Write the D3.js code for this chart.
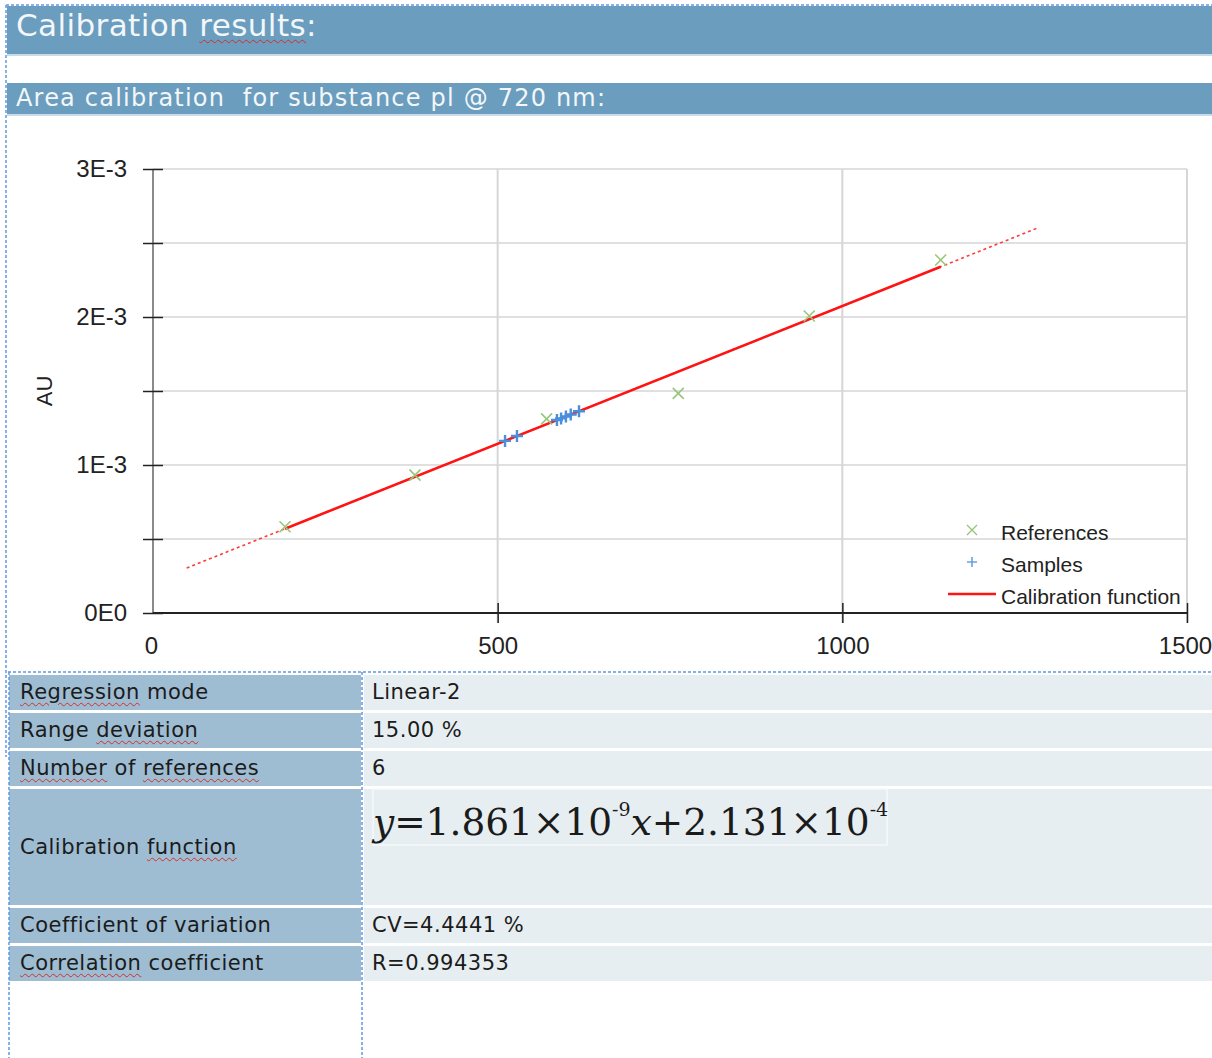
<!DOCTYPE html>
<html>
<head>
<meta charset="utf-8">
<script src="https://cdn.jsdelivr.net/npm/d3@7"></script>
<style>
  html, body { margin: 0; padding: 0; background: #fff; }
  body { width: 1212px; height: 1058px; position: relative; overflow: hidden; font-family: "DejaVu Sans", sans-serif; }
  .bar { position: absolute; background: #6b9dbe; color: #f3f7fa; border-bottom: 2px solid #c9dbe7; box-sizing: border-box; white-space: nowrap; }
  .cell { position: absolute; box-sizing: border-box; white-space: nowrap; color: #1b1b1b; font-size: 21px; letter-spacing: 0.5px; }
  .lab { background: #9ebdd3; }
  .val { background: #e7eef1; }
  .sp { text-decoration: underline wavy #d0302a; text-decoration-thickness: 1px; text-underline-offset: 3px; }
  svg { position: absolute; left: 0; top: 0; }
</style>
</head>
<body>
<div id="page"></div>
<script>
// ---- calibration data (area axis shown in thousands of counts) ----
const refArea  = [191.5, 380.0, 571.0, 762.0, 952.0, 1142.7];
const refAU    = [0.583e-3, 0.932e-3, 1.312e-3, 1.484e-3, 2.007e-3, 2.385e-3];
const sampleArea = [510.7, 528.0, 586.0, 592.0, 599.0, 606.0, 618.0];
const sampleAU   = [1.163e-3, 1.196e-3, 1.304e-3, 1.315e-3, 1.328e-3, 1.341e-3, 1.363e-3];

const calibSlope = 1.861e-9;      // AU per count
const calibIntercept = 2.131e-4;  // AU
const areaUnit = 1e3;             // counts per axis unit
const rangeDeviation = 0.15;      // extrapolation shown beyond the reference range

const xTicks = [0, 500, 1000, 1500];
const yTicks = [0, 0.5e-3, 1e-3, 1.5e-3, 2e-3, 2.5e-3, 3e-3];
const yTickLabels = ["0E0", "", "1E-3", "", "2E-3", "", "3E-3"];

const legendItems = ["References", "Samples", "Calibration function"];

const tableRows = [
  { label: [["Regression", true], [" mode", false]], value: "Linear-2" },
  { label: [["Range ", false], ["deviation", true]], value: "15.00 %" },
  { label: [["Number", true], [" of ", false], ["references", true]], value: "6" },
  { label: [["Calibration ", false], ["function", true]], value: null },
  { label: [["Coefficient of variation", false]], value: "CV=4.4441 %" },
  { label: [["Correlation", true], [" coefficient", false]], value: "R=0.994353" }
];
const rowTops = [675, 713, 751, 789, 908, 946];
const rowHeights = [35, 35, 35, 116, 35, 35];

// ---- page header bars ----
const page = d3.select("#page");
const bar1 = page.append("div").attr("class", "bar")
  .style("left", "7px").style("top", "6px").style("width", "1205px").style("height", "50px")
  .style("font-size", "31px").style("letter-spacing", "0.4px")
  .style("padding-left", "9px").style("line-height", "38px");
bar1.append("span").text("Calibration ");
bar1.append("span").attr("class", "sp").text("results");
bar1.append("span").text(":");

page.append("div").attr("class", "bar")
  .style("left", "7px").style("top", "83px").style("width", "1205px").style("height", "33px")
  .style("font-size", "24px").style("letter-spacing", "1.2px")
  .style("padding-left", "9px").style("line-height", "31px")
  .text("Area calibration\u00a0 for substance pl @ 720 nm:");

// ---- results table ----
tableRows.forEach((r, i) => {
  const lab = page.append("div").attr("class", "cell lab")
    .style("left", "9px").style("top", rowTops[i] + "px")
    .style("width", "352px").style("height", rowHeights[i] + "px")
    .style("padding-left", "11px").style("line-height", rowHeights[i] + "px");
  r.label.forEach(([t, misspelled]) => lab.append("span").attr("class", misspelled ? "sp" : null).text(t));
  const val = page.append("div").attr("class", "cell val")
    .style("left", "364px").style("top", rowTops[i] + "px")
    .style("width", "848px").style("height", rowHeights[i] + "px")
    .style("padding-left", "8px").style("line-height", rowHeights[i] + "px");
  if (r.value) val.text(r.value);
});

// ---- chart ----
const svg = d3.select("body").append("svg").attr("width", 1212).attr("height", 1058);
const x = d3.scaleLinear().domain([0, 1500]).range([153, 1187]);
const y = d3.scaleLinear().domain([0, 3e-3]).range([613, 169]);

const grid = svg.append("g");
grid.selectAll("line.h").data(yTicks.slice(1)).join("line")
  .attr("x1", x(0)).attr("x2", x(1500)).attr("y1", d => y(d)).attr("y2", d => y(d))
  .attr("stroke", "#d6d6d6").attr("stroke-width", 1.5);
grid.selectAll("line.v").data(xTicks.slice(1)).join("line")
  .attr("x1", d => x(d)).attr("x2", d => x(d)).attr("y1", y(3e-3)).attr("y2", y(0) + 10)
  .attr("stroke", "#d6d6d6").attr("stroke-width", 2);

const chartFont = "'Liberation Sans', Arial, sans-serif";

const yAxis = svg.append("g").attr("transform", `translate(${x(0)},0)`)
  .call(d3.axisLeft(y).tickValues(yTicks).tickFormat((d, i) => yTickLabels[i]).tickSize(10).tickPadding(16));
yAxis.select(".domain").attr("stroke", "#8a8a8a").attr("stroke-width", 2).attr("d", `M0,${y(0)}V${y(3e-3)}`);
yAxis.selectAll(".tick line").attr("x1", -10).attr("x2", 10).attr("stroke", "#222").attr("stroke-width", 1.5);
yAxis.selectAll(".tick text").attr("font-family", chartFont).attr("font-size", 24).attr("fill", "#222");

const xAxis = svg.append("g").attr("transform", `translate(0,${y(0)})`)
  .call(d3.axisBottom(x).tickValues(xTicks).tickFormat(d3.format("d")).tickSize(10).tickPadding(14));
xAxis.select(".domain").attr("stroke", "#222").attr("stroke-width", 2).attr("d", `M${x(0)},0H${x(1500)}`);
xAxis.selectAll(".tick line").attr("y1", -10).attr("y2", 10).attr("stroke", "#222").attr("stroke-width", 1.5)
  .attr("display", d => d === 0 ? "none" : null);
xAxis.selectAll(".tick text").attr("font-family", chartFont).attr("font-size", 24).attr("fill", "#222")
  .attr("dx", d => d === 0 ? -2 : (d === 1500 ? -2 : 0));

svg.append("text").attr("transform", `translate(52,${y(1.5e-3)}) rotate(-90)`)
  .attr("text-anchor", "middle").attr("font-family", chartFont).attr("font-size", 22).attr("fill", "#222")
  .text("AU");

// calibration function: solid over the reference range, dashed over the deviation margin
const calib = a => calibSlope * a * areaUnit + calibIntercept;
const aMin = d3.min(refArea), aMax = d3.max(refArea);
const margin = (aMax - aMin) * rangeDeviation;
svg.append("line")
  .attr("x1", x(aMin - margin)).attr("y1", y(calib(aMin - margin)))
  .attr("x2", x(aMax + margin)).attr("y2", y(calib(aMax + margin)))
  .attr("stroke", "#ff3b3b").attr("stroke-width", 1.6).attr("stroke-dasharray", "3,3");
svg.append("line")
  .attr("x1", x(aMin)).attr("y1", y(calib(aMin)))
  .attr("x2", x(aMax)).attr("y2", y(calib(aMax)))
  .attr("stroke", "#ff1414").attr("stroke-width", 2.6);

// markers
const cross = (g, s) => g.append("path").attr("d", `M${-s},${-s}L${s},${s}M${-s},${s}L${s},${-s}`);
const plus = (g, s) => g.append("path").attr("d", `M${-s},0H${s}M0,${-s}V${s}`);

svg.append("g").selectAll("g").data(refArea.map((a, i) => [a, refAU[i]])).join("g")
  .attr("transform", d => `translate(${x(d[0])},${y(d[1])})`)
  .each(function () { cross(d3.select(this), 5.5).attr("stroke", "#97c67a").attr("stroke-width", 1.6).attr("fill", "none"); });

svg.append("g").selectAll("g").data(sampleArea.map((a, i) => [a, sampleAU[i]])).join("g")
  .attr("transform", d => `translate(${x(d[0])},${y(d[1])})`)
  .each(function () { plus(d3.select(this), 6).attr("stroke", "#4a8fdc").attr("stroke-width", 2.4).attr("fill", "none"); });

// legend
const lg = svg.append("g").attr("font-family", chartFont).attr("font-size", 21).attr("fill", "#222");
const legendY = [530, 562, 594];
cross(lg.append("g").attr("transform", `translate(972,${legendY[0]})`), 5)
  .attr("stroke", "#97c67a").attr("stroke-width", 1.4).attr("fill", "none");
plus(lg.append("g").attr("transform", `translate(972,${legendY[1]})`), 5)
  .attr("stroke", "#6aa2e0").attr("stroke-width", 1.6).attr("fill", "none");
lg.append("line").attr("x1", 948).attr("x2", 996).attr("y1", legendY[2]).attr("y2", legendY[2])
  .attr("stroke", "#ff1414").attr("stroke-width", 2.4);
lg.selectAll("text").data(legendItems).join("text")
  .attr("x", 1001).attr("y", (d, i) => legendY[i] + 10).text(d => d);

// calibration function formula in the table
const fx = svg.append("g");
fx.append("rect").attr("x", 373).attr("y", 789).attr("width", 514).attr("height", 56)
  .attr("fill", "none").attr("stroke", "#f6f9fa").attr("stroke-width", 1.5);
const ft = fx.append("text").attr("x", 373).attr("y", 835)
  .attr("font-family", "'DejaVu Serif', 'Liberation Serif', serif").attr("font-size", 37.5).attr("fill", "#1b1b1b");
ft.append("tspan").attr("font-style", "italic").text("y");
ft.append("tspan").text("=1.861×10");
ft.append("tspan").attr("font-size", 19).attr("dy", -19).text("-9");
ft.append("tspan").attr("font-style", "italic").attr("dy", 19).text("x");
ft.append("tspan").text("+2.131×10");
ft.append("tspan").attr("font-size", 19).attr("dy", -19).text("-4");

// dashed layout guides
const guide = svg.append("g").attr("stroke", "#5f98e8").attr("stroke-width", 1.5).attr("stroke-dasharray", "3,2");
[[6, 5, 1212, 5], [6, 5, 6, 757], [8, 672, 1212, 672], [9, 672, 9, 1058], [362, 672, 362, 1058]]
  .forEach(([x1, y1, x2, y2]) => guide.append("line").attr("x1", x1).attr("y1", y1).attr("x2", x2).attr("y2", y2));
</script>
</body>
</html>
